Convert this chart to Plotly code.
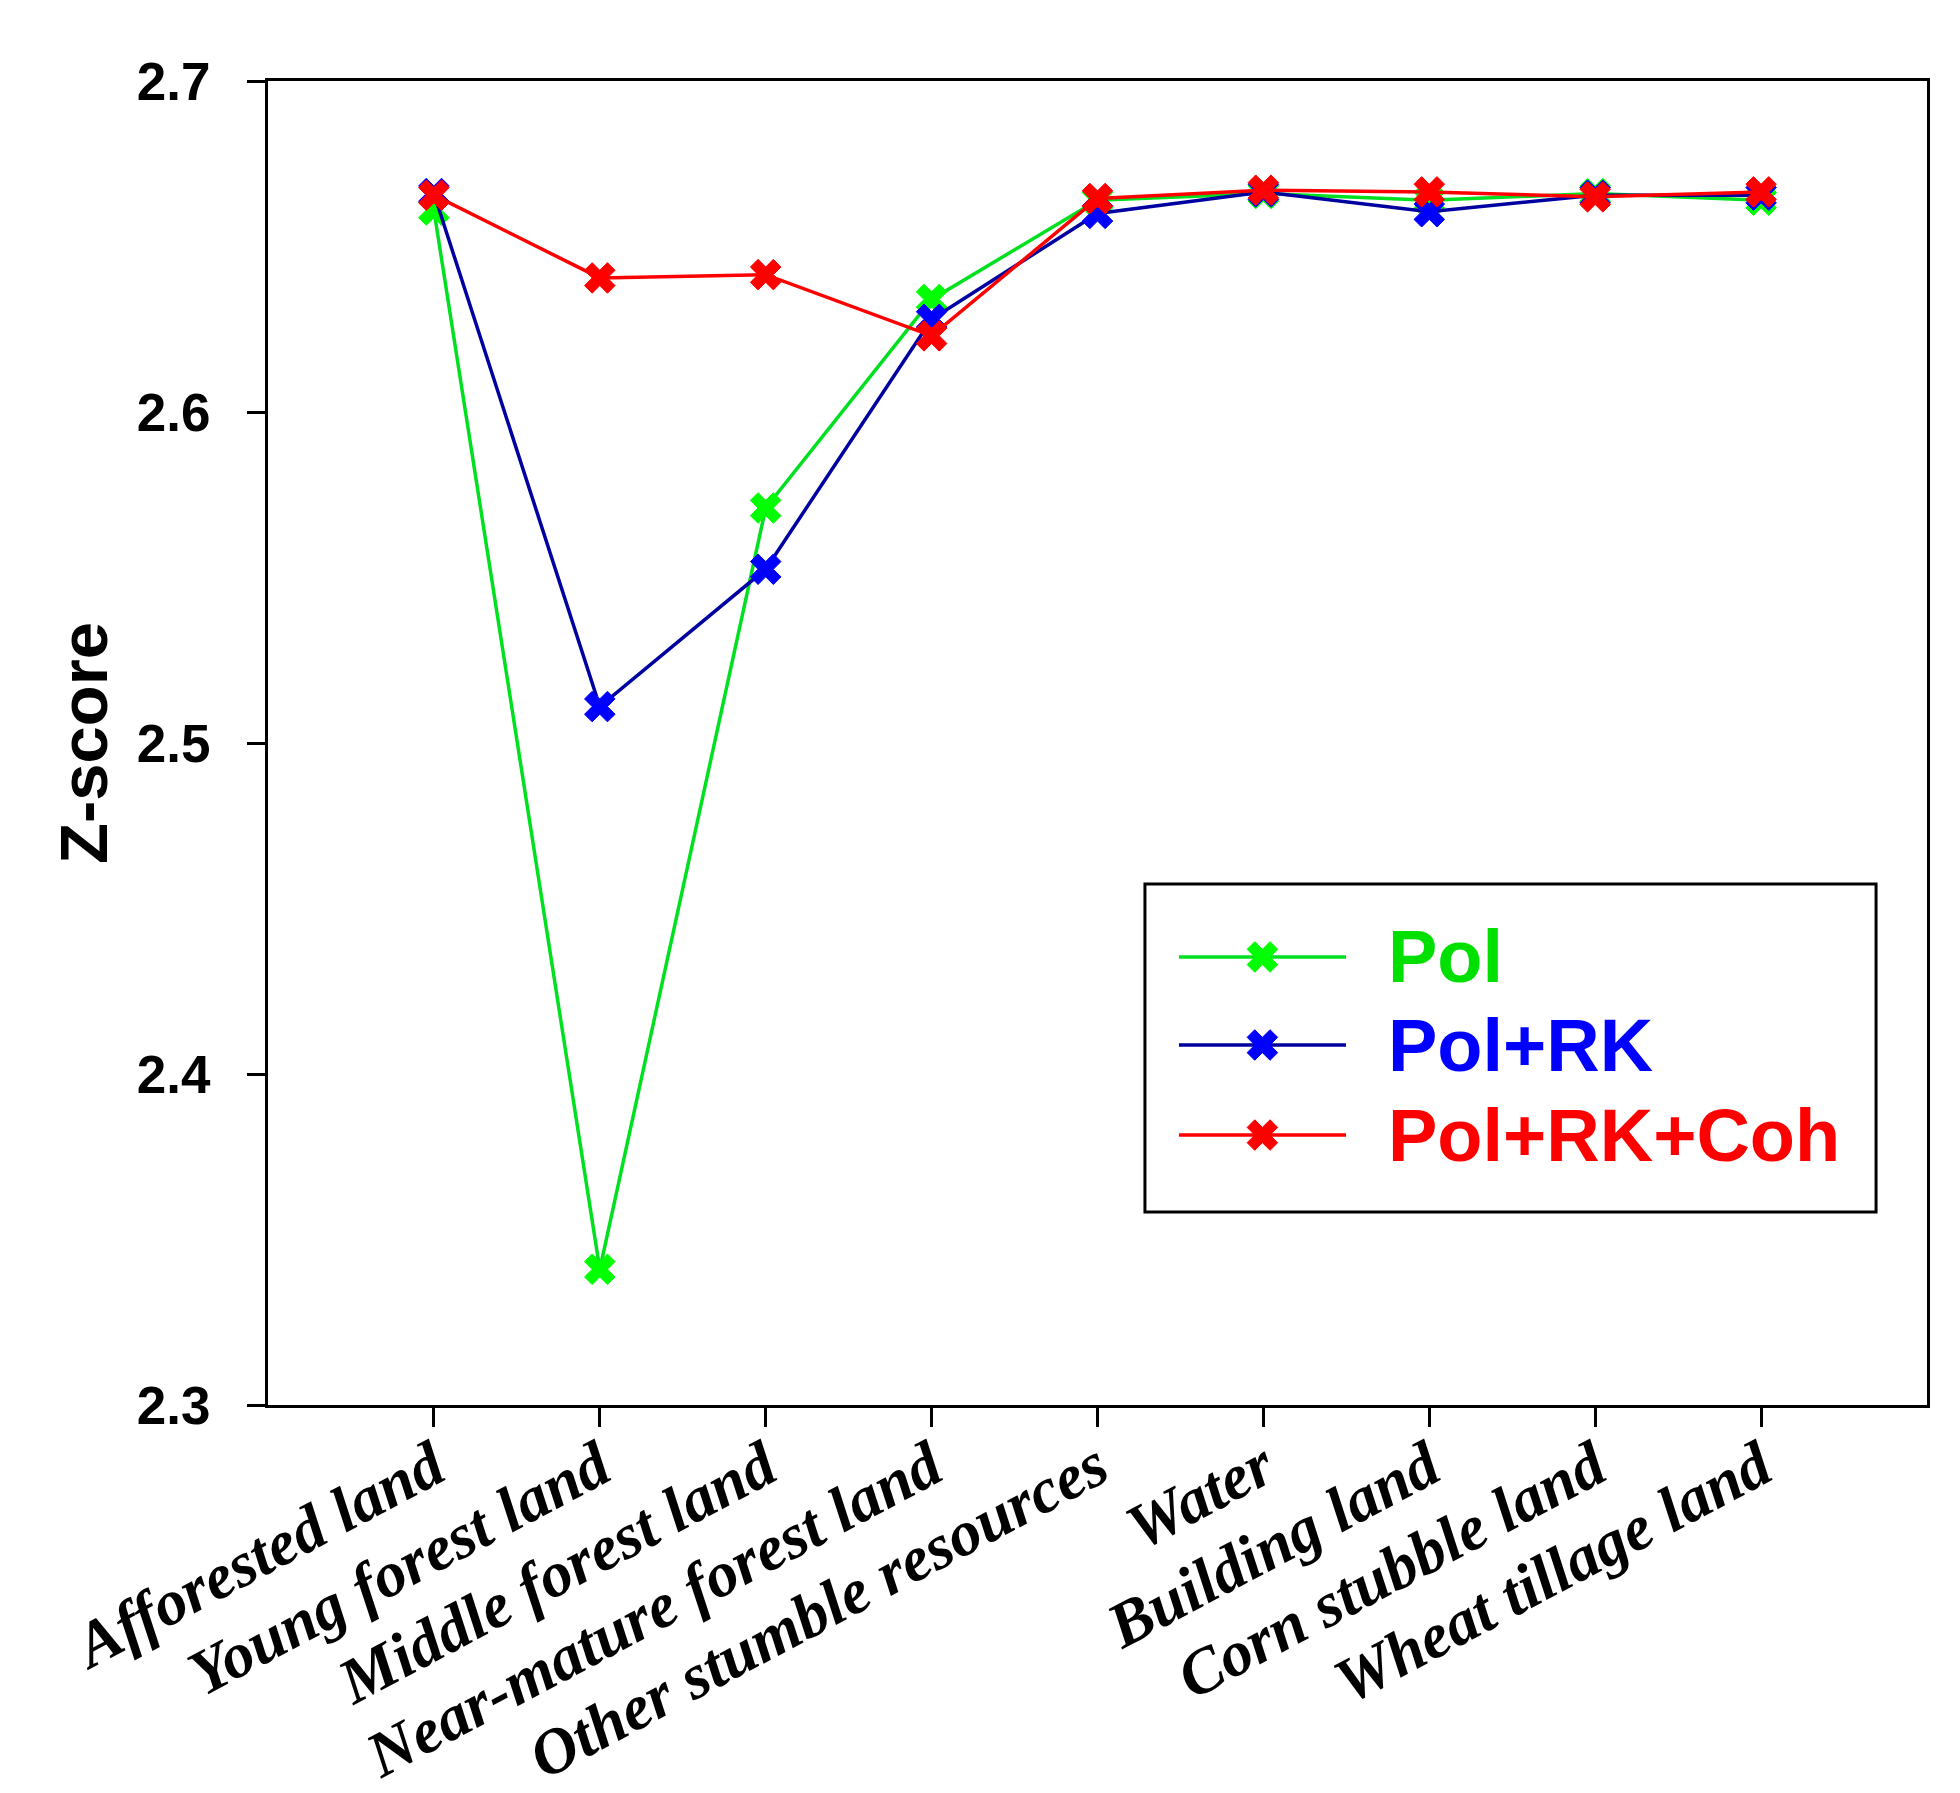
import plotly.graph_objects as go

categories = ["Afforested land", "Young forest land", "Middle forest land",
              "Near-mature forest land", "Other stumble resources", "Water",
              "Building land", "Corn stubble land", "Wheat tillage land"]

pol = [2.661, 2.341, 2.571, 2.634, 2.664, 2.666, 2.664, 2.666, 2.664]
pol_rk = [2.666, 2.511, 2.5525, 2.628, 2.660, 2.6665, 2.6605, 2.6655, 2.6655]
pol_rk_coh = [2.6655, 2.6405, 2.6415, 2.623, 2.6645, 2.667, 2.6665, 2.665, 2.6665]

series_names = ["Pol", "Pol+RK", "Pol+RK+Coh"]
series_values = [pol, pol_rk, pol_rk_coh]
line_colors = ["#00E020", "#0000A0", "#FF0000"]
marker_colors = ["#00FF00", "#0000FF", "#FF0000"]
text_colors = ["#00E000", "#0000FF", "#FF0000"]

y_ticks = [2.3, 2.4, 2.5, 2.6, 2.7]
y_tick_labels = ["2.3", "2.4", "2.5", "2.6", "2.7"]

fig = go.Figure()
for name, vals, lc, mc in zip(series_names, series_values, line_colors, marker_colors):
    fig.add_trace(go.Scatter(
        x=categories, y=vals, name=name, mode="lines+markers",
        line=dict(color=lc, width=3.5),
        marker=dict(symbol="x", size=27, color=mc, line=dict(color=mc, width=1)),
        showlegend=False, cliponaxis=False,
    ))

# Custom legend (sample line + marker on a small helper axis)
row_y = [0.3384, 0.2719, 0.2039]
for name, lc, mc, tc, ry in zip(series_names, line_colors, marker_colors, text_colors, row_y):
    fig.add_trace(go.Scatter(
        x=[0, 0.5, 1], y=[ry, ry, ry], mode="lines",
        line=dict(color=lc, width=3.5), xaxis="x2", yaxis="y2",
        showlegend=False, hoverinfo="skip"))
    fig.add_trace(go.Scatter(
        x=[0.5], y=[ry], mode="markers",
        marker=dict(symbol="x", size=27, color=mc, line=dict(color=mc, width=1)),
        xaxis="x2", yaxis="y2", showlegend=False, hoverinfo="skip"))
    fig.add_annotation(
        text=f"<b>{name}</b>", xref="paper", yref="paper",
        x=0.674, y=ry, xanchor="left", yanchor="middle", showarrow=False,
        font=dict(family="Liberation Sans, Arial", size=74, color=tc))

fig.add_shape(type="rect", xref="paper", yref="paper",
              x0=0.5286, x1=0.9693, y0=0.1458, y1=0.3935,
              line=dict(color="black", width=3), fillcolor="rgba(0,0,0,0)")

fig.update_layout(
    width=1960, height=1793,
    margin=dict(l=260, r=41, t=73, b=396),
    paper_bgcolor="white", plot_bgcolor="rgba(0,0,0,0)",
    xaxis=dict(
        type="category", range=[-1, 9], automargin=False,
        showline=True, mirror=True, linecolor="black", linewidth=3,
        ticks="outside", ticklen=19, tickwidth=2.5, tickcolor="black",
        tickangle=-28, showgrid=False, zeroline=False, ticklabelstandoff=-22,
        tickfont=dict(family="Liberation Serif, Times New Roman", size=64,
                      color="black", weight="bold", style="italic"),
    ),
    yaxis=dict(
        range=[2.3, 2.7], tickvals=y_ticks, ticktext=y_tick_labels, automargin=False,
        showline=True, mirror=True, linecolor="black", linewidth=3,
        ticks="outside", ticklen=18, tickwidth=2.5, tickcolor="black",
        showgrid=False, zeroline=False, ticklabelstandoff=26,
        tickfont=dict(family="Liberation Sans, Arial", size=53, color="black", weight="bold"),
        title=dict(text="<b>Z-score</b>", standoff=8,
                   font=dict(family="Liberation Sans, Arial", size=67, color="black")),
    ),
    xaxis2=dict(domain=[0.549, 0.6498], range=[0, 1], visible=False, anchor="y2"),
    yaxis2=dict(domain=[0, 1], range=[0, 1], visible=False, anchor="x2"),
)

fig.write_html("out.html")
